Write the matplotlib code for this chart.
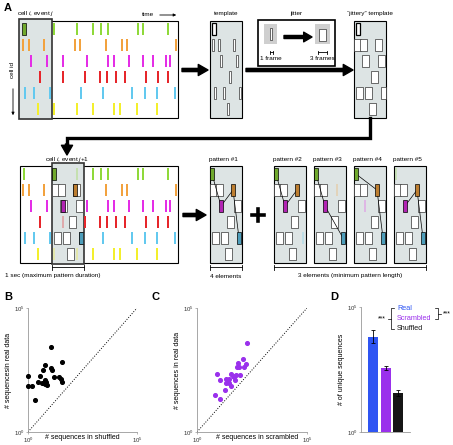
import matplotlib.pyplot as plt
from matplotlib.patches import Rectangle
from matplotlib.colors import to_rgb

plt.rcParams['font.family'] = ['Liberation Sans', 'DejaVu Sans']
plt.rcParams['mathtext.fontset'] = 'custom'
plt.rcParams['mathtext.rm'] = 'Liberation Sans'
plt.rcParams['mathtext.it'] = 'Liberation Sans:italic'

# -------------------------
# 1. Data
# -------------------------
cell_colors = ['#8fd93a', '#f2a23e', '#e42ee6', '#e6262b', '#63c9ef', '#f3ef2d']
green_spikes = [4, 34, 57, 73, 81, 88, 118, 123, 148]
orange_spikes = [3, 9, 24, 55, 60, 86, 102, 107, 156]
magenta_spikes = [11, 27, 43, 67, 88, 94, 109, 123, 133, 146, 150]
red_spikes = [20, 43, 65, 80, 87, 96, 105, 126, 138, 148]
cyan_spikes = [5, 14, 30, 61, 83, 112, 125, 137, 155]
yellow_spikes = [18, 34, 57, 73, 94, 100, 117, 137]
spike_trains = [green_spikes, orange_spikes, magenta_spikes,
                red_spikes, cyan_spikes, yellow_spikes]

window_len = 32      # frames in the 1 sec window
jitter_width = 7     # width of a jittered slot
pattern_cells = [[0, 1, 2, 4], [0, 1, 2], [0, 2, 4], [0, 1, 4], [1, 2, 4]]
pattern_names = ['pattern #1', 'pattern #2', 'pattern #3', 'pattern #4', 'pattern #5']

# panel B
shuffled_counts = [1, 1, 1.6, 2.2, 3.0, 3.5, 4.2, 5.1, 5.9, 5.9, 6.3,
                   6.8, 7.1, 5.2, 11, 11.5, 12, 16, 27, 32, 35, 38]
real_counts_b = [182, 69, 72, 20, 107, 182, 93, 324, 490, 89, 120,
                 100, 78, 91, 2800, 380, 309, 166, 166, 141, 100, 690]

# panel C
scrambled_counts = [182, 129, 170, 72, 78, 66, 141, 8.3, 11, 20, 25, 35,
                    42, 47, 30, 35, 21, 62, 93, 19, 6.3, 11, 28, 54]
real_counts_c = [3890, 871, 562, 589, 407, 407, 407, 209, 126, 138, 117, 209,
                 174, 162, 93, 74, 93, 191, 200, 48, 30, 22, 138, 129]

# panel D
groups = ['Real', 'Scrambled', 'Shuffled']
group_colors = ['#2f55f3', '#9a30ec', '#161616']
unique_means = [6500, 380, 35]
unique_low = [3550, 316, 27]
unique_high = [11750, 457, 46]

# -------------------------
# 2. Figure + schematic layer (pixel units)
# -------------------------
fig = plt.figure(figsize=(4.53, 4.45), dpi=100)
ax0 = fig.add_axes([0, 0, 1, 1])
ax0.set_xlim(0, 453)
ax0.set_ylim(445, 0)
ax0.axis('off')
ax0.set_zorder(10)

gray_fill = '#dde4e4'
spike_w, spike_h = 2.6, 12
hit_w = 3.8
row_off = [8 + 16 * i for i in range(6)]
fs = 4.6


def darker(c, f=0.78):
    r, g, b = to_rgb(c)
    return (r * f, g * f, b * f)


def box(x, y, w, h, fc, ec='k', lw=0.8, z=1):
    ax0.add_patch(Rectangle((x, y), w, h, facecolor=fc, edgecolor=ec, lw=lw, zorder=z))


def spike(x, y, color, w=spike_w, edge=None, alpha=1.0, z=4):
    ax0.add_patch(Rectangle((x - w / 2, y - spike_h / 2), w, spike_h,
                            facecolor=color, edgecolor=edge if edge else 'none',
                            lw=0.5, alpha=alpha, zorder=z))


def slot(x, y, w, left=-1e9, right=1e9, lw=0.5, ec='#333333', z=4):
    x0 = max(x - w / 2, left)
    x1 = min(x + w / 2, right)
    ax0.add_patch(Rectangle((x0, y - spike_h / 2), x1 - x0, spike_h,
                            facecolor='white', edgecolor=ec, lw=lw, zorder=z))


def hbar(x0, x1, y, tick=2.5, lw=0.6):
    ax0.plot([x0, x1], [y, y], color='k', lw=lw)
    ax0.plot([x0, x0], [y - tick, y + tick], color='k', lw=lw)
    ax0.plot([x1, x1], [y - tick, y + tick], color='k', lw=lw)


def thick_arrow(x0, y0, x1, y1, w=2.3, hw=8, hl=7):
    ax0.annotate('', xy=(x1, y1), xytext=(x0, y0),
                 arrowprops=dict(facecolor='k', edgecolor='k', width=w,
                                 headwidth=hw, headlength=hl, shrink=0))


# template = spikes inside the first window
template = [(c, t) for c, train in enumerate(spike_trains) for t in train if t < window_len]
ref = template[0]
ref_next = [t for t in green_spikes if window_len <= t < 2 * window_len][0]
matched = {0: (ref[1], ref_next)}
for c, t in template[1:]:
    for s in spike_trains[c]:
        if abs(s - (t + window_len)) <= jitter_width / 2:
            matched[c] = (t, s)

# ---- top raster
rx, rw, bh = 20, 158, 97
top_y, bot_y = 21, 166
box(rx, top_y, rw, bh, 'white')
box(19, 19, window_len + 1, bh + 3, gray_fill, ec='#333333', lw=1.2, z=2)
for c, train in enumerate(spike_trains):
    for t in train:
        if (c, t) == ref:
            spike(rx + t, top_y + row_off[c], darker(cell_colors[c]), w=hit_w, edge='k')
        else:
            spike(rx + t, top_y + row_off[c], cell_colors[c])
ax0.text(36, 14, 'cell $i$, event $j$', fontsize=fs, ha='center', va='center')
ax0.text(148, 15, 'time', fontsize=fs, ha='center', va='center')
ax0.annotate('', xy=(179, 15), xytext=(157, 15),
             arrowprops=dict(arrowstyle='-|>', lw=0.6, color='k', mutation_scale=4))
ax0.text(12, 70, 'cell id', fontsize=fs, rotation=90, ha='center', va='center')
ax0.annotate('', xy=(13, 118), xytext=(13, 86),
             arrowprops=dict(arrowstyle='-|>', lw=0.6, color='k', mutation_scale=4))
ax0.text(4, 8, 'A', fontsize=8, fontweight='bold', va='center')

# ---- template
tx = 210
box(tx, top_y, window_len, bh, gray_fill)
ax0.text(tx + 16, 14, 'template', fontsize=fs, ha='center', va='center')
for c, t in template:
    if (c, t) == ref:
        slot(tx + t, top_y + row_off[c], hit_w, lw=0.9, ec='k')
    else:
        slot(tx + t, top_y + row_off[c], 2.6)

# ---- jitter box
box(258, 20, 77, 46, 'white', lw=1.2)
ax0.text(296, 14, 'jitter', fontsize=fs, ha='center', va='center')
box(264, 24, 13, 20, '#cfcfcf', ec='none', z=2)
slot(271, 34, 2.6, z=3)
box(315, 24, 15, 20, '#cfcfcf', ec='none', z=2)
slot(322.5, 35, 7, z=3)
thick_arrow(284, 37, 312, 37, w=2.2, hw=7, hl=6)
hbar(269.5, 272.5, 52, tick=1.5)
hbar(318, 327, 52, tick=1.5)
ax0.text(271, 58, '1 frame', fontsize=fs, ha='center', va='center')
ax0.text(322, 58, '3 frames', fontsize=fs, ha='center', va='center')

# ---- jittery template
jx = 354
box(jx, top_y, window_len, bh, gray_fill)
ax0.text(jx + 16, 14, '\u201cjittery\u201d template', fontsize=fs, ha='center', va='center')
for c, t in template:
    if (c, t) == ref:
        slot(jx + t, top_y + row_off[c], hit_w, lw=0.9, ec='k')
    else:
        slot(jx + t, top_y + row_off[c], jitter_width, jx, jx + window_len)

# arrows between top boxes
thick_arrow(182, 70, 208, 70)
thick_arrow(246, 70, 353, 70)
ax0.plot([370, 370, 67, 67], [118, 138, 138, 146], color='k', lw=2.4,
         solid_joinstyle='miter', zorder=3)
thick_arrow(67, 144, 67, 155, w=2.3, hw=8, hl=7)

# ---- bottom raster
wx = rx + window_len
box(rx, bot_y, rw, bh, 'white')
box(wx, bot_y - 3, window_len, bh + 4, gray_fill, ec='#333333', lw=1.2, z=2)
for c, t in template[1:]:
    slot(wx + t, bot_y + row_off[c], jitter_width, wx, wx + window_len)
for c, train in enumerate(spike_trains):
    for t in train:
        x, y = rx + t, bot_y + row_off[c]
        if window_len <= t < 2 * window_len:
            if c in matched and matched[c][1] == t:
                spike(x, y, darker(cell_colors[c]), w=hit_w, edge='k', z=5)
            else:
                spike(x, y, cell_colors[c], alpha=0.3, z=3)
        else:
            spike(x, y, cell_colors[c])
ax0.text(67, 159, 'cell $i$, event $j$+1', fontsize=fs, ha='center', va='center')
hbar(wx, wx + window_len, 267)
ax0.text(5, 276, '1 sec (maximum pattern duration)', fontsize=fs, ha='left', va='center')

thick_arrow(183, 215, 206, 215)
ax0.plot([252, 264], [215, 215], color='k', lw=2.6)
ax0.plot([258, 258], [209, 221], color='k', lw=2.6)

# ---- patterns
pattern_lefts = [210, 274, 314, 354, 394]
for px, cells, name in zip(pattern_lefts, pattern_cells, pattern_names):
    box(px, bot_y, window_len, bh, gray_fill)
    ax0.text(px - 1, 160, name, fontsize=fs, ha='left', va='center')
    for c, t in template[1:]:
        if c in matched and matched[c][0] == t:
            continue
        slot(px + t, bot_y + row_off[c], jitter_width, px, px + window_len)
    order = sorted([c for c in cells], key=lambda c: matched[c][1])
    ax0.plot([px + matched[c][1] - window_len for c in order],
             [bot_y + row_off[c] for c in order], color='k', lw=0.5, zorder=4.5)
    for c, (t, s) in matched.items():
        x, y = px + s - window_len, bot_y + row_off[c]
        if c in cells:
            spike(x, y, darker(cell_colors[c]), w=hit_w, edge='k', z=5)
        else:
            spike(x, y, cell_colors[c], alpha=0.25, z=5)

hbar(210, 242, 267)
ax0.text(226, 276, '4 elements', fontsize=fs, ha='center', va='center')
hbar(274, 426, 267)
ax0.text(350, 276, '3 elements (minimum pattern length)', fontsize=fs, ha='center', va='center')

# panel letters
ax0.text(4, 297, 'B', fontsize=8, fontweight='bold', va='center')
ax0.text(152, 297, 'C', fontsize=8, fontweight='bold', va='center')
ax0.text(330, 297, 'D', fontsize=8, fontweight='bold', va='center')


# -------------------------
# 3. Panels B, C, D
# -------------------------
def style_log(ax, xlog=True):
    if xlog:
        ax.set_xscale('log')
    ax.set_yscale('log')
    for s in ['top', 'right']:
        ax.spines[s].set_visible(False)
    for s in ['left', 'bottom']:
        ax.spines[s].set_color('#999999')
        ax.spines[s].set_linewidth(0.6)
    ax.minorticks_off()
    ax.tick_params(length=1.5, width=0.5, color='#999999', labelsize=4.3, pad=1,
                   labelcolor='#333333')
    ax.set_ylim(1, 1e5)
    ax.set_yticks([1, 1e5])
    ax.set_yticklabels(['$10^0$', '$10^5$'])
    if xlog:
        ax.set_xlim(1, 1e5)
        ax.set_xticks([1, 1e5])
        ax.set_xticklabels(['$10^0$', '$10^5$'])


axB = fig.add_axes([28 / 453, 13 / 445, 109 / 453, 124 / 445])
style_log(axB)
axB.plot([1, 1e5], [1, 1e5], ':', color='k', lw=0.7)
axB.scatter(shuffled_counts, real_counts_b, s=7, color='k', clip_on=False, zorder=3)
axB.set_ylabel('# sequencesin real data', fontsize=5, labelpad=1)
axB.text(0.5, -0.02, '# sequences in shuffled', fontsize=5, ha='center', va='top',
         transform=axB.transAxes)

axC = fig.add_axes([197 / 453, 13 / 445, 110 / 453, 124 / 445])
style_log(axC)
axC.plot([1, 1e5], [1, 1e5], ':', color='k', lw=0.7)
axC.scatter(scrambled_counts, real_counts_c, s=7, color='#9a30ec', clip_on=False, zorder=3)
axC.set_ylabel('# sequences in real data', fontsize=5, labelpad=1)
axC.text(0.55, -0.02, '# sequences in scrambled', fontsize=5, ha='center', va='top',
         transform=axC.transAxes)

axD = fig.add_axes([361 / 453, 13 / 445, 49 / 453, 125 / 445])
style_log(axD, xlog=False)
xpos = [1, 2, 3]
axD.bar(xpos, unique_means, width=0.8, color=group_colors)
err_lo = [m - lo for m, lo in zip(unique_means, unique_low)]
err_hi = [hi - m for m, hi in zip(unique_means, unique_high)]
axD.errorbar(xpos, unique_means, yerr=[err_lo, err_hi], fmt='none', ecolor='k',
             elinewidth=0.6, capsize=1.5, capthick=0.6)
axD.set_xlim(0.04, 3.96)
axD.set_xticks([])
axD.set_ylabel('# of unique sequences', fontsize=5, labelpad=1)

# legend with significance brackets
for name, col, y in zip(groups, group_colors, [308, 318, 328]):
    ax0.text(397, y, name, fontsize=5.2, color=col, ha='left', va='center')
ax0.plot([394, 391, 391, 394], [308, 308, 329, 329], color='k', lw=0.5)
ax0.plot([388, 391], [318.5, 318.5], color='k', lw=0.5)
ax0.text(382, 319, '***', fontsize=5, ha='center', va='center')
ax0.plot([435, 438, 438, 435], [308, 308, 319, 319], color='k', lw=0.5)
ax0.plot([438, 441], [313.5, 313.5], color='k', lw=0.5)
ax0.text(447, 314, '***', fontsize=5, ha='center', va='center')

fig.savefig('out.png', dpi=100)
